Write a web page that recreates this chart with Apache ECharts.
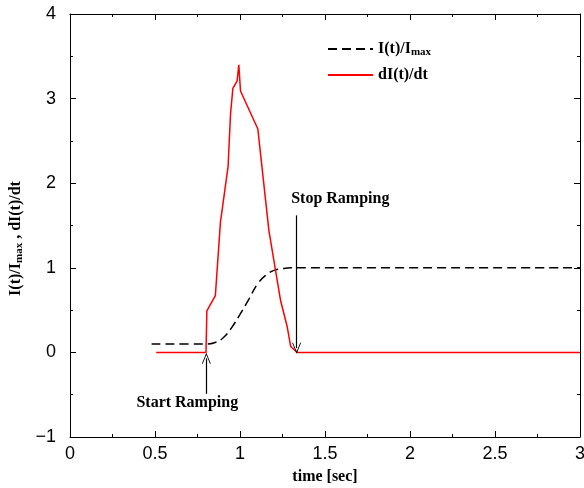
<!DOCTYPE html>
<html>
<head>
<meta charset="utf-8">
<script src="https://cdn.jsdelivr.net/npm/echarts@6/dist/echarts.min.js"></script>
<style>
    html, body { margin: 0; padding: 0; background: #fff; }
    #chart { width: 584px; height: 488px; }
</style>
</head>
<body>
<div id="chart"></div>
<script>
// I(t)/Imax, normalised current ramp
var rampTime = [0.48, 0.80, 0.85, 0.90, 0.95, 1.00, 1.05, 1.10, 1.15, 1.20, 1.25, 1.30, 3.00];
var rampValue = [0.1, 0.1, 0.115, 0.17, 0.29, 0.45, 0.62, 0.80, 0.91, 0.97, 0.99, 1.0, 1.0];

// dI(t)/dt
var rateTime = [0.507, 0.80, 0.805, 0.855, 0.885, 0.93, 0.944, 0.958, 0.983, 0.993, 1.003, 1.105, 1.17, 1.239, 1.278, 1.298, 1.337, 3.00];
var rateValue = [0, 0, 0.49, 0.67, 1.54, 2.2, 2.81, 3.12, 3.21, 3.40, 3.09, 2.64, 1.44, 0.61, 0.30, 0.07, 0, 0];

// annotation arrows [x, yFrom, yTo]
var stopArrow = [1.333, 1.62, 0.05];
var startArrow = [0.802, -0.49, -0.07];

function pairs(xs, ys) {
    return xs.map(function (x, i) { return [x, ys[i]]; });
}

var serif = '"Liberation Serif", "DejaVu Serif", serif';
var sans = '"Liberation Sans", Arial, sans-serif';
var chevron = 'path://M0,10 L5,0 L10,10 L9,10 L5,2 L1,10 Z';

function axisBase(show) {
    return {
        type: 'value',
        axisLine: { show: true, onZero: false, lineStyle: { color: '#000', width: 1 } },
        axisTick: { show: true, inside: true, length: 6, lineStyle: { color: '#000' } },
        minorTick: { show: true, splitNumber: 2, length: 3, lineStyle: { color: '#000' } },
        splitLine: { show: false },
        axisLabel: {
            show: show, color: '#000', fontFamily: sans, fontSize: 18,
            formatter: function (v) { return String(v).replace('-', '\u2212'); }
        }
    };
}

var xBottom = Object.assign(axisBase(true), {
    min: 0, max: 3, interval: 0.5, position: 'bottom',
    name: 'time [sec]', nameLocation: 'middle', nameGap: 32,
    nameTextStyle: { fontFamily: serif, fontWeight: 'bold', fontSize: 16, color: '#000' }
});
xBottom.axisLabel.margin = 8;
var xTop = Object.assign(axisBase(false), { min: 0, max: 3, interval: 0.5, position: 'top' });

var yLeft = Object.assign(axisBase(true), {
    min: -1, max: 4, interval: 1, position: 'left',
    name: '{b|I(t)/I}{s|max}{b| , dI(t)/dt}', nameLocation: 'middle', nameGap: 45, nameRotate: 90,
    nameTextStyle: {
        color: '#000',
        padding: [0, 26, 0, 0],
        rich: {
            b: { fontFamily: serif, fontWeight: 'bold', fontSize: 16, color: '#000' },
            s: { fontFamily: serif, fontWeight: 'bold', fontSize: 11, color: '#000', padding: [7, 0, 0, 0] }
        }
    }
});
yLeft.axisLabel.margin = 14;
var yRight = Object.assign(axisBase(false), { min: -1, max: 4, interval: 1, position: 'right' });

var chart = echarts.init(document.getElementById('chart'));
chart.setOption({
    animation: false,
    grid: { left: 70, right: 4, top: 14, bottom: 51, outerBoundsMode: 'none' },
    legend: {
        orient: 'vertical',
        left: 322, top: 36,
        itemWidth: 45, itemHeight: 14, itemGap: 9,
        itemStyle: { opacity: 0 },
        data: ['Imax', 'rate'],
        formatter: function (name) {
            return name === 'Imax' ? '{b|I(t)/I}{s|max}' : '{b|dI(t)/dt}';
        },
        textStyle: {
            color: '#000',
            rich: {
                b: { fontFamily: serif, fontWeight: 'bold', fontSize: 16, color: '#000' },
                s: { fontFamily: serif, fontWeight: 'bold', fontSize: 11, color: '#000', padding: [7, 0, 0, 0] }
            }
        }
    },
    xAxis: [xBottom, xTop],
    yAxis: [yLeft, yRight],
    series: [{
        name: 'Imax',
        type: 'line',
        smooth: 0.4,
        symbol: 'none',
        data: pairs(rampTime, rampValue),
        lineStyle: { color: '#000', width: 1.5, type: [9, 5] },
        itemStyle: { color: '#000' }
    }, {
        name: 'rate',
        type: 'line',
        symbol: 'none',
        data: pairs(rateTime, rateValue),
        lineStyle: { color: '#ff0000', width: 1.5 },
        itemStyle: { color: '#ff0000' },
        markLine: {
            silent: true,
            symbol: ['none', chevron],
            symbolSize: [9, 11],
            label: { show: false },
            lineStyle: { color: '#000', width: 1.2, type: 'solid' },
            data: [
                [{ coord: [stopArrow[0], stopArrow[1]] }, { coord: [stopArrow[0], stopArrow[2]] }],
                [{ coord: [startArrow[0], startArrow[1]] }, { coord: [startArrow[0], startArrow[2]] }]
            ]
        },
        markPoint: {
            silent: true,
            symbol: 'circle',
            symbolSize: 0,
            label: {
                show: true, position: 'inside', color: '#000',
                fontFamily: serif, fontWeight: 'bold', fontSize: 16
            },
            data: [
                { coord: [1.59, 1.82], value: 'Stop Ramping', label: { formatter: 'Stop Ramping' } },
                { coord: [0.69, -0.6], value: 'Start Ramping', label: { formatter: 'Start Ramping' } }
            ]
        }
    }]
});
</script>
</body>
</html>
